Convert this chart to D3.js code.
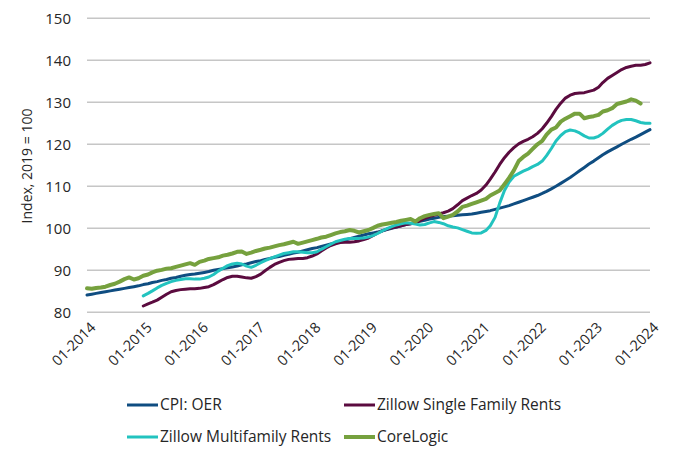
<!DOCTYPE html>
<html><head><meta charset="utf-8">
<script src="https://cdn.jsdelivr.net/npm/d3@7"></script>
<style>body{margin:0;background:#fff}svg{display:block}text{font-family:"Open Sans",sans-serif}</style>
</head><body><svg id="c" width="680" height="457"></svg>
<script>
// Monthly data starting 01-2014 (index 0); null = no data
const startYear = 2014;
const xTickLabels = ["01-2014","01-2015","01-2016","01-2017","01-2018","01-2019","01-2020","01-2021","01-2022","01-2023","01-2024"];
const yTicks = [80,90,100,110,120,130,140,150];
const seriesNames = ["CPI: OER","Zillow Single Family Rents","Zillow Multifamily Rents","CoreLogic"];
const seriesColors = ["#0f4d81","#5b0b3f","#22c3bf","#76a13e"];

const cpiOER = [
 84.1,84.3,84.5,84.7,84.9,85.1,85.3,85.5,85.7,85.9,86.1,86.3,
 86.6,86.8,87.1,87.3,87.6,87.8,88.1,88.3,88.6,88.8,89.0,89.1,
 89.3,89.5,89.7,90.0,90.2,90.4,90.6,90.8,91.0,91.3,91.5,91.8,
 92.1,92.3,92.6,92.8,93.1,93.3,93.6,93.8,94.1,94.3,94.6,94.9,
 95.2,95.4,95.7,96.0,96.3,96.6,96.9,97.2,97.5,97.8,98.1,98.4,
 98.7,98.9,99.1,99.4,99.7,100.0,100.3,100.6,100.9,101.1,101.4,101.7,
 101.9,102.2,102.4,102.6,102.8,102.9,103.0,103.1,103.2,103.3,103.4,103.6,
 103.8,104.0,104.2,104.5,104.8,105.1,105.4,105.8,106.2,106.6,107.0,107.4,
 107.8,108.3,108.8,109.4,110.0,110.7,111.4,112.1,112.9,113.7,114.5,115.3,
 116.0,116.8,117.5,118.2,118.8,119.4,120.0,120.6,121.2,121.7,122.3,122.9,
 123.5];
const zillowSF = [
 null,null,null,null,null,null,null,null,null,null,null,null,
 81.5,82.0,82.4,82.9,83.6,84.3,84.9,85.2,85.4,85.5,85.6,85.6,
 85.7,85.9,86.1,86.6,87.2,87.8,88.3,88.6,88.6,88.4,88.2,88.1,
 88.5,89.1,89.9,90.7,91.4,91.9,92.3,92.6,92.7,92.8,92.8,93.0,
 93.4,93.9,94.6,95.3,95.9,96.3,96.6,96.7,96.7,96.8,97.0,97.3,
 97.7,98.3,98.9,99.4,99.8,100.1,100.3,100.6,100.9,101.1,101.3,101.8,
 102.4,102.8,103.1,103.4,103.7,104.1,104.7,105.6,106.6,107.2,107.8,108.3,
 109.1,110.3,111.7,113.4,115.2,116.8,118.1,119.2,120.1,120.7,121.2,121.8,
 122.6,123.7,125.0,126.6,128.3,129.8,131.0,131.7,132.1,132.2,132.3,132.6,
 132.9,133.6,134.7,135.7,136.4,137.1,137.8,138.3,138.6,138.8,138.8,139.0,
 139.4];
const zillowMF = [
 null,null,null,null,null,null,null,null,null,null,null,null,
 83.9,84.5,85.1,85.8,86.4,86.9,87.3,87.6,87.8,88.0,88.0,87.9,
 87.9,88.1,88.4,89.0,89.8,90.5,91.1,91.5,91.7,91.5,91.0,90.7,
 91.2,91.8,92.3,92.8,93.2,93.6,94.0,94.2,94.4,94.4,94.3,94.2,
 94.2,94.4,95.0,95.6,96.2,96.8,97.1,97.4,97.6,97.6,97.6,97.7,
 97.9,98.3,98.8,99.4,99.9,100.4,100.8,101.1,101.3,101.2,101.0,100.8,
 100.9,101.3,101.6,101.4,101.1,100.6,100.3,100.1,99.7,99.3,98.9,98.8,
 98.9,99.5,100.6,102.6,106.0,109.0,111.0,112.4,113.0,113.6,114.1,114.7,
 115.2,116.0,117.3,119.0,120.8,122.1,123.0,123.4,123.2,122.7,122.0,121.5,
 121.5,121.9,122.6,123.6,124.5,125.2,125.7,125.9,125.9,125.6,125.2,125.0,
 125.0];
const coreLogic = [
 85.7,85.6,85.8,85.9,86.1,86.5,86.8,87.3,87.9,88.3,87.8,88.1,
 88.7,89.0,89.5,89.9,90.1,90.4,90.5,90.8,91.1,91.4,91.7,91.3,
 92.0,92.3,92.7,92.9,93.1,93.5,93.7,94.0,94.4,94.5,93.9,94.2,
 94.6,94.9,95.2,95.4,95.7,96.0,96.2,96.5,96.8,96.3,96.6,96.9,
 97.2,97.5,97.8,98.0,98.4,98.8,99.1,99.3,99.6,99.4,99.0,99.3,
 99.6,100.1,100.6,100.9,101.1,101.3,101.5,101.8,102.0,102.2,101.6,102.4,
 102.9,103.2,103.4,103.6,102.4,102.8,103.2,104.0,105.1,105.4,105.8,106.2,
 106.6,107.0,107.8,108.4,109.0,110.5,112.0,113.8,116.0,117.0,117.8,118.9,
 120.0,120.8,122.3,123.5,124.0,125.4,126.1,126.7,127.3,127.3,126.2,126.5,
 126.7,127.0,127.8,128.1,128.6,129.6,129.9,130.2,130.7,130.4,129.7];

const allSeries = [cpiOER, zillowSF, zillowMF, coreLogic];
const widths = [3,3,3,4];

const svg = d3.select("#c");
const m = {left:87, right:650, top:18.3, bottom:312.3};
const x = d3.scaleTime().domain([new Date(startYear,0,1), new Date(2024,0,1)]).range([m.left, m.right]);
const y = d3.scaleLinear().domain([80,150]).range([m.bottom, m.top]);
const dateOf = i => new Date(startYear + Math.floor(i/12), i%12, 1);

// gridlines
svg.append("g").selectAll("line").data(yTicks).join("line")
  .attr("x1", m.left).attr("x2", m.right)
  .attr("y1", d=>y(d)).attr("y2", d=>y(d))
  .attr("stroke","#c6c6c6").attr("stroke-width",1.5);

// y axis labels
const yAxis = d3.axisLeft(y).tickValues(yTicks).tickSize(0).tickPadding(0);
svg.append("g").attr("transform",`translate(71,0)`).call(yAxis)
  .call(g=>g.select(".domain").remove())
  .call(g=>g.selectAll("text").attr("font-size",15).attr("fill","#262626").attr("font-family","'Open Sans',sans-serif"));

// x axis labels
const xTickDates = xTickLabels.map((s,i)=>new Date(startYear+i,0,1));
const xAxis = d3.axisBottom(x).tickValues(xTickDates).tickSize(0).tickFormat((d,i)=>xTickLabels[i]);
const xg = svg.append("g").attr("transform",`translate(0,${m.bottom})`).call(xAxis);
xg.select(".domain").remove();
xg.selectAll("text")
  .attr("font-size",14.5).attr("fill","#262626").attr("font-family","'Open Sans',sans-serif")
  .attr("text-anchor","end").attr("dy",0).attr("y",0)
  .attr("transform","translate(9,16) rotate(-45)");

// y title
svg.append("text").attr("transform","translate(32,166) rotate(-90)")
  .attr("text-anchor","middle").attr("font-size",14).attr("fill","#262626")
  .text("Index, 2019 = 100");

// lines
const line = d3.line().defined(d=>d[1]!=null).x(d=>x(d[0])).y(d=>y(d[1]));
allSeries.forEach((s,k)=>{
  svg.append("path").datum(s.map((v,i)=>[dateOf(i),v]))
    .attr("d", line).attr("fill","none").attr("stroke",seriesColors[k])
    .attr("stroke-width",widths[k]).attr("stroke-linejoin","round").attr("stroke-linecap","round");
});

// legend
const legPos = [[127,405],[344,405],[127,437],[344,437]];
seriesNames.forEach((n,k)=>{
  const [lx,ly]=legPos[k];
  svg.append("line").attr("x1",lx).attr("x2",lx+31).attr("y1",ly).attr("y2",ly)
    .attr("stroke",seriesColors[k]).attr("stroke-width",widths[k]);
  svg.append("text").attr("x",lx+33).attr("y",ly).attr("dy","0.35em")
    .attr("font-size",15.5).attr("fill","#262626").text(n);
});
</script></body></html>
